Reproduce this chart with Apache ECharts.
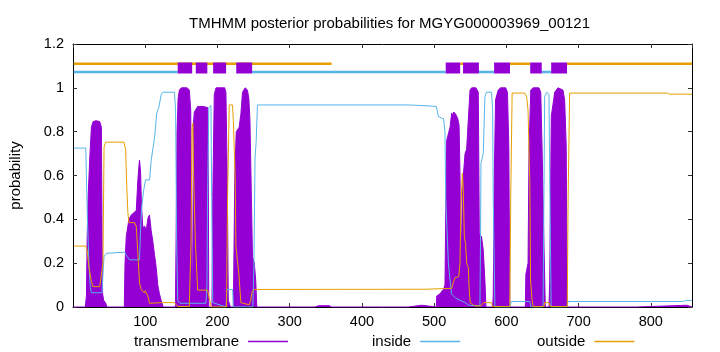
<!DOCTYPE html>
<html>
<head>
<meta charset="utf-8">
<script src="https://cdn.jsdelivr.net/npm/echarts@6/dist/echarts.min.js"></script>
<style>
html,body{margin:0;padding:0;background:#fff;}
#chart{width:720px;height:352px;}
</style>
</head>
<body>
<div id="chart"></div>
<script>
const titleText = 'TMHMM posterior probabilities for MGYG000003969_00121';
const seqLength = 857;

// posterior probability traces: [residue, probability]
const tmData = [[1,0],[17,0],[18.6,0.05],[19.5,0.3],[20.9,0.5],[23.2,0.68],[25.5,0.82],[27.8,0.846],[32,0.85],[37,0.846],[39.3,0.82],[40.3,0.3],[41,0.06],[42.5,0.03],[45,0.02],[47,0],[71,0],[72,0.2],[73.7,0.32],[76,0.37],[77.4,0.4],[80.7,0.42],[87.6,0.44],[89.8,0.58],[91.2,0.64],[92.1,0.67],[93.5,0.62],[94.9,0.46],[96.7,0.36],[99,0.37],[101.3,0.35],[104.1,0.41],[105.9,0.42],[108.2,0.35],[110.5,0.3],[112.8,0.24],[115.2,0.18],[117.4,0.1],[119.7,0.06],[122,0.03],[125,0],[141.8,0],[142.7,0.3],[144,0.8],[145.5,0.95],[147.3,0.99],[150,1.0],[158,1.0],[161,0.99],[163,0.9],[164.5,0.2],[165.5,0.05],[166,0.3],[166.8,0.84],[168,0.89],[172.6,0.915],[180,0.915],[186.4,0.91],[187.3,0.6],[188,0],[192.4,0],[193.5,0.5],[195.6,0.97],[198,1.0],[210,1.0],[211.7,0.98],[213.5,0.6],[215,0.03],[216,0.02],[218,0],[222,0],[222.7,0.2],[224,0.6],[226,0.8],[230,0.82],[232.4,0.88],[234.7,0.98],[238.3,1.0],[241.5,0.99],[243.5,0.95],[245,0.85],[247,0.5],[248.5,0.23],[251,0.2],[253,0.12],[254.5,0],[335,0],[340,0.006],[355,0.006],[358,0],[464,0],[466,0.008],[483,0.008],[485,0],[503,0],[503.6,0.05],[508,0.06],[512.8,0.08],[515,0.1],[516,0.4],[517.4,0.76],[518.9,0.78],[522,0.82],[524.3,0.885],[525.7,0.87],[527,0.89],[529.8,0.88],[532.6,0.86],[534.5,0.83],[535.8,0.6],[536.7,0.32],[538,0.3],[539,0.5],[540.4,0.6],[542.8,0.7],[545,0.72],[547.3,0.854],[549.7,0.99],[552,1.0],[558,1.0],[561.1,0.98],[562,0.6],[562.5,0.336],[565.7,0.32],[568,0.26],[570.3,0.12],[571.7,0],[581,0],[581.8,0.05],[583.2,0.58],[585,0.945],[588.7,0.99],[592,1.0],[599,1.0],[601.5,0.98],[603.4,0.73],[604.8,0],[626.3,0],[627,0.15],[630,0.2],[631.4,0.73],[633.8,0.99],[637,1.0],[645,1.0],[647.6,0.98],[649.4,0.73],[652.1,0.275],[653.9,0],[659,0],[660,0.12],[662.2,0.87],[666.9,0.98],[671.4,1.0],[678.3,0.99],[680.7,0.945],[682.9,0.73],[683.5,0.38],[684.3,0],[780,0],[782,0.008],[850,0.008],[852,0],[857,0]];

const insideData = [[1,0.725],[17.7,0.725],[18.5,0.6],[20,0.4],[22,0.2],[24,0.09],[25.5,0.065],[40.2,0.065],[41.5,0.15],[43,0.23],[46,0.245],[48.5,0.25],[71.4,0.25],[75,0.23],[78.3,0.215],[92.1,0.215],[93.5,0.35],[95,0.45],[97.7,0.53],[100.4,0.58],[106,0.58],[108.3,0.67],[110.5,0.72],[112.8,0.77],[116,0.885],[118.8,0.91],[122,0.968],[124.3,0.98],[140.4,0.98],[142,0.9],[143.5,0.3],[145,0.03],[148,0.017],[184,0.017],[185.5,0.1],[186.3,0.5],[188,0.91],[191,0.92],[192,0.5],[193.5,0.02],[212,0],[213,0.08],[221,0.08],[222,0],[249,0],[250.5,0.2],[252,0.68],[253.5,0.75],[255.4,0.922],[464.6,0.922],[490,0.918],[503,0.915],[506,0.869],[510,0.862],[513,0.86],[515,0.8],[516,0.5],[519.7,0.2],[524,0.06],[530,0.04],[542.8,0.02],[548,0.008],[563.4,0.005],[564.2,0.3],[564.8,0.656],[568,0.7],[570.3,0.96],[572.6,0.98],[579.5,0.98],[581,0.9],[581.8,0.5],[584.1,0],[604.8,0],[607,0.025],[632.4,0.025],[634,0],[650.8,0],[652,0.5],[653,0.96],[656,0.98],[659,0.97],[660,0.6],[662,0],[684,0],[685.2,0.025],[844,0.025],[850,0.03],[857,0.03]];

const outsideData = [[1,0.278],[17.7,0.278],[19.5,0.26],[22,0.184],[25.5,0.116],[27.8,0.093],[37,0.093],[39.5,0.1],[41.5,0.2],[43,0.73],[45.2,0.752],[70.5,0.752],[72.8,0.72],[74.6,0.534],[76,0.43],[77.4,0.385],[85.2,0.385],[87.6,0.367],[89.8,0.245],[92.1,0.11],[94.5,0.078],[97,0.07],[99,0.065],[100,0.075],[101.3,0.065],[103.6,0.05],[106,0.017],[124,0.02],[140.4,0.02],[145,0.002],[161,0.002],[163.4,0.3],[164.8,0.82],[166,0.838],[167,0.6],[169.4,0.3],[172.6,0.077],[186.3,0.077],[188.7,0.07],[191.4,0],[212.5,0],[214,0.5],[216.3,0.922],[220.8,0.922],[222,0.85],[224.6,0.58],[225.5,0.275],[227.7,0.21],[229.5,0.155],[232.4,0.02],[243.9,0.01],[246,0.03],[248,0.07],[250.8,0.08],[487.6,0.081],[489,0.085],[524.3,0.085],[526,0.108],[529,0.134],[534,0.138],[535.8,0.2],[537,0.45],[539,0.61],[540.2,0.55],[541.8,0.32],[543.5,0.29],[545,0.2],[547.3,0.18],[548.5,0.08],[550,0.02],[556,0.005],[565,0.005],[568,0.02],[579,0.02],[581,0.002],[604.8,0.002],[606,0.5],[608,0.976],[625.5,0.976],[628,0.96],[630,0.9],[631.4,0.7],[632.4,0.58],[633.5,0.123],[635.6,0.03],[637,0.002],[652,0.002],[653,0.02],[659,0.02],[661,0.002],[684.3,0.002],[685.5,0.5],[687.6,0.976],[823,0.976],[826,0.971],[857,0.971]];

// predicted topology segments [start, end]
const insideRanges = [[1,145],[248,516],[562,583],[649,662]];
const outsideRanges = [[1,358],[536,540],[605,633],[684,857]];
const tmRanges = [[145,165],[170,186],[194,212],[226,248],[516,536],[540,562],[583,605],[633,649],[662,684]];

const insideLevel = 1.072;
const outsideLevel = 1.11;
const tmLevel = 1.091;

const C_TM = '#9400d3', C_IN = '#56b4e9', C_OUT = '#e69f00';
const FONT = "'Liberation Sans', Arial, sans-serif";

function segSeries(ranges, level, color, width, z) {
  return ranges.map(r => ({
    type: 'line', silent: true, showSymbol: false, z: z,
    data: [[r[0], level], [r[1], level]],
    lineStyle: { color: color, width: width, cap: 'butt' },
    itemStyle: { color: color },
    animation: false
  }));
}

function legendFor(name, color, left) {
  return {
    data: [{ name: name, icon: 'rect', itemStyle: { color: color, borderWidth: 0 } }],
    left: left, top: 334, padding: 0, align: 'right', itemWidth: 40, itemHeight: 1.5,
    itemStyle: { color: color, borderWidth: 0, borderColor: color },
    lineStyle: { color: color, width: 0 },
    textStyle: { fontFamily: FONT, fontSize: 15, color: '#000', padding: [0, 4, 0, 0] }
  };
}

const chart = echarts.init(document.getElementById('chart'), null, { renderer: 'canvas' });

const axisTickStyle = { show: true, inside: true, length: 4, lineStyle: { color: '#333', width: 1 } };

const option = {
  animation: false,
  backgroundColor: '#fff',
  textStyle: { fontFamily: FONT },
  title: {
    text: titleText, left: 184, top: 11,
    textStyle: { fontFamily: FONT, fontSize: 15, fontWeight: 'normal', color: '#000' }
  },
  legend: [
    legendFor('transmembrane', C_TM, 134),
    legendFor('inside', C_IN, 372),
    legendFor('outside', C_OUT, 537)
  ],
  grid: { left: 73, right: 28, top: 44, bottom: 45, containLabel: false, outerBoundsMode: 'none' },
  xAxis: [
    { type: 'value', min: 0, max: seqLength, interval: 100, position: 'bottom',
      axisLine: { show: true, onZero: false, lineStyle: { color: '#000', width: 1 } },
      axisTick: axisTickStyle, splitLine: { show: false },
      axisLabel: { show: true, showMinLabel: false, showMaxLabel: false, margin: 7, fontFamily: FONT, fontSize: 14.5, color: '#000' } },
    { type: 'value', min: 0, max: seqLength, interval: 100, position: 'top',
      axisLine: { show: true, onZero: false, lineStyle: { color: '#000', width: 1 } },
      axisTick: axisTickStyle, splitLine: { show: false }, axisLabel: { show: false } }
  ],
  yAxis: [
    { type: 'value', min: 0, max: 1.2, interval: 0.2, position: 'left',
      name: 'probability', nameLocation: 'middle', nameGap: 50, nameRotate: 90,
      nameTextStyle: { fontFamily: FONT, fontSize: 15, color: '#000' },
      axisLine: { show: true, onZero: false, lineStyle: { color: '#000', width: 1 } },
      axisTick: axisTickStyle, splitLine: { show: false },
      axisLabel: { margin: 9, fontFamily: FONT, fontSize: 14.5, color: '#000' } },
    { type: 'value', min: 0, max: 1.2, interval: 0.2, position: 'right',
      axisLine: { show: true, onZero: false, lineStyle: { color: '#000', width: 1 } },
      axisTick: axisTickStyle, splitLine: { show: false }, axisLabel: { show: false } }
  ],
  series: [
    { name: 'transmembrane', type: 'line', data: tmData, showSymbol: false, z: 2,
      lineStyle: { color: C_TM, width: 1 }, itemStyle: { color: C_TM },
      areaStyle: { color: C_TM, opacity: 1 } },
    { name: 'inside', type: 'line', data: insideData, showSymbol: false, z: 3,
      lineStyle: { color: C_IN, width: 1 }, itemStyle: { color: C_IN } },
    { name: 'outside', type: 'line', data: outsideData, showSymbol: false, z: 4,
      lineStyle: { color: C_OUT, width: 1 }, itemStyle: { color: C_OUT } }
  ]
    .concat(segSeries(insideRanges, insideLevel, C_IN, 2.5, 5))
    .concat(segSeries(outsideRanges, outsideLevel, C_OUT, 2.5, 5))
    .concat(segSeries(tmRanges, tmLevel, C_TM, 11, 6))
};

chart.setOption(option);
</script>
</body>
</html>
